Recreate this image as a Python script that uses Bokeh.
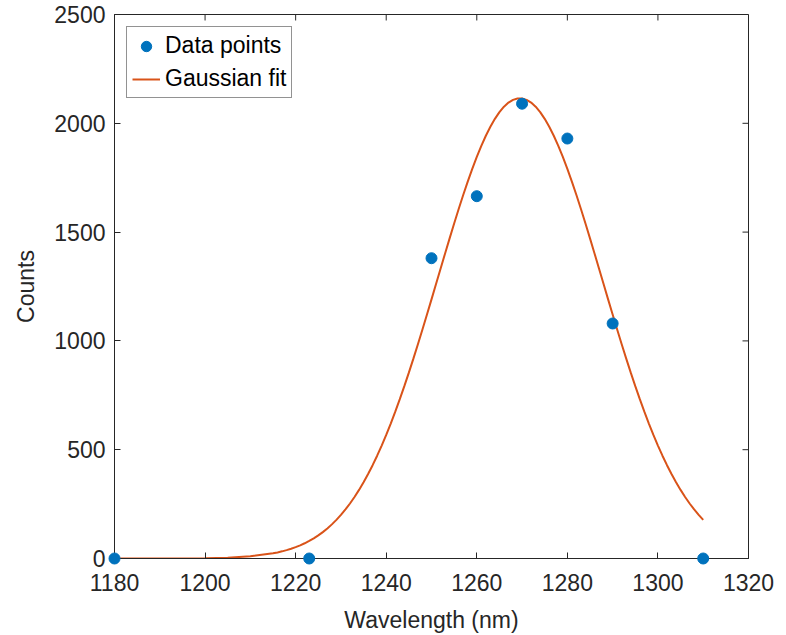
from bokeh.plotting import figure
from bokeh.models import Range1d, Legend, LegendItem
from bokeh.embed import file_html
from bokeh.resources import INLINE

# Data points
wavelength = [1180, 1223, 1250, 1260, 1270, 1280, 1290, 1310]
counts = [0, 0, 1380, 1665, 2090, 1930, 1080, 0]

# Gaussian fit curve
fit_wavelength = [1180, 1185, 1190, 1195, 1200, 1205, 1210,
                  1215, 1216, 1217, 1218, 1219, 1220, 1221, 1222, 1223, 1224,
                  1225, 1226, 1227, 1228, 1229, 1230, 1231, 1232, 1233, 1234,
                  1235, 1236, 1237, 1238, 1239, 1240, 1241, 1242, 1243, 1244,
                  1245, 1246, 1247, 1248, 1249, 1250, 1251, 1252, 1253, 1254,
                  1255, 1256, 1257, 1258, 1259, 1260, 1261, 1262, 1263, 1264,
                  1265, 1266, 1267, 1268, 1269, 1270, 1271, 1272, 1273, 1274,
                  1275, 1276, 1277, 1278, 1279, 1280, 1281, 1282, 1283, 1284,
                  1285, 1286, 1287, 1288, 1289, 1290, 1291, 1292, 1293, 1294,
                  1295, 1296, 1297, 1298, 1299, 1300, 1301, 1302, 1303, 1304,
                  1305, 1306, 1307, 1308, 1309, 1310]
fit_counts = [0, 0, 0.2, 0.5, 1.4, 4, 10,
              23.8, 28.0, 32.9, 38.5, 44.9, 52.2, 60.6, 70.0, 80.7, 92.7,
              106.2, 121.3, 138.1, 156.8, 177.5, 200.3, 225.4, 252.8, 282.7, 315.2,
              350.3, 388.2, 428.9, 472.4, 518.8, 568.1, 620.1, 674.8, 732.1, 792.0,
              854.1, 918.4, 984.5, 1052.1, 1121.0, 1190.9, 1261.2, 1331.7, 1401.9, 1471.3,
              1539.5, 1606.0, 1670.3, 1732.0, 1790.5, 1845.4, 1896.3, 1942.7, 1984.2, 2020.5,
              2051.3, 2076.2, 2095.1, 2107.8, 2114.2, 2114.2, 2107.8, 2095.1, 2076.2, 2051.3,
              2020.5, 1984.2, 1942.7, 1896.3, 1845.4, 1790.5, 1732.0, 1670.3, 1606.0, 1539.5,
              1471.3, 1401.9, 1331.7, 1261.2, 1190.9, 1121.0, 1052.1, 984.5, 918.4, 854.1,
              792.0, 732.1, 674.8, 620.1, 568.1, 518.8, 472.4, 428.9, 388.2, 350.3,
              315.2, 282.7, 252.8, 225.4, 200.3, 177.5]

x_ticks = [1180, 1200, 1220, 1240, 1260, 1280, 1300, 1320]
y_ticks = [0, 500, 1000, 1500, 2000, 2500]

FONT = "Liberation Sans"
TXT = "#262626"
FS = "23px"
X0, X1 = 1180, 1320
Y0, Y1 = 0, 2500

p = figure(width=786, height=635, output_backend="svg", toolbar_location=None,
           x_range=Range1d(X0, X1), y_range=Range1d(Y0, Y1),
           min_border_left=114, min_border_right=38, min_border_top=14, min_border_bottom=76)
p.background_fill_color = "white"
p.border_fill_color = "white"
p.xgrid.visible = False
p.ygrid.visible = False
p.outline_line_color = TXT
p.outline_line_width = 1

# inward ticks on top and right edges (MATLAB box style), tick length ~6 px
x_tick_len = (Y1 - Y0) * 6 / 545
y_tick_len = (X1 - X0) * 6 / 634
p.segment(x0=x_ticks, y0=[Y1] * len(x_ticks), x1=x_ticks, y1=[Y1 - x_tick_len] * len(x_ticks),
          line_color=TXT, line_width=1)
p.segment(x0=[X1] * len(y_ticks), y0=y_ticks, x1=[X1 - y_tick_len] * len(y_ticks), y1=y_ticks,
          line_color=TXT, line_width=1)

line = p.line(fit_wavelength, fit_counts, line_color="#D95319", line_width=2)
pts = p.scatter(wavelength, counts, size=11, marker="circle", fill_color="#0072BD",
                line_color="#0072BD", level="overlay")

for ax in (p.xaxis[0], p.yaxis[0]):
    ax.major_label_text_font = FONT
    ax.major_label_text_font_size = FS
    ax.major_label_text_color = TXT
    ax.axis_label_text_font = FONT
    ax.axis_label_text_font_size = FS
    ax.axis_label_text_font_style = "normal"
    ax.axis_label_text_color = TXT
    ax.axis_line_color = TXT
    ax.major_tick_line_color = TXT
    ax.major_tick_in = 6
    ax.major_tick_out = 0
    ax.minor_tick_line_color = None

p.xaxis[0].ticker = x_ticks
p.yaxis[0].ticker = y_ticks
p.xaxis[0].axis_label = "Wavelength (nm)"
p.yaxis[0].axis_label = "Counts"
p.xaxis[0].major_label_standoff = 15
p.xaxis[0].axis_label_standoff = 13
p.yaxis[0].major_label_standoff = 9
p.yaxis[0].axis_label_standoff = 12

legend = Legend(items=[LegendItem(label="Data points", renderers=[pts]),
                       LegendItem(label="Gaussian fit", renderers=[line])],
                location="top_left")
legend.margin = 12
legend.padding = 5
legend.spacing = 6
legend.glyph_width = 28
legend.glyph_height = 26
legend.label_height = 26
legend.label_standoff = 5
legend.label_text_font = FONT
legend.label_text_font_size = FS
legend.label_text_color = "black"
legend.border_line_color = TXT
legend.border_line_width = 1
legend.background_fill_color = "white"
legend.background_fill_alpha = 1
p.add_layout(legend)

open("out.html", "w").write(file_html(p, INLINE))
